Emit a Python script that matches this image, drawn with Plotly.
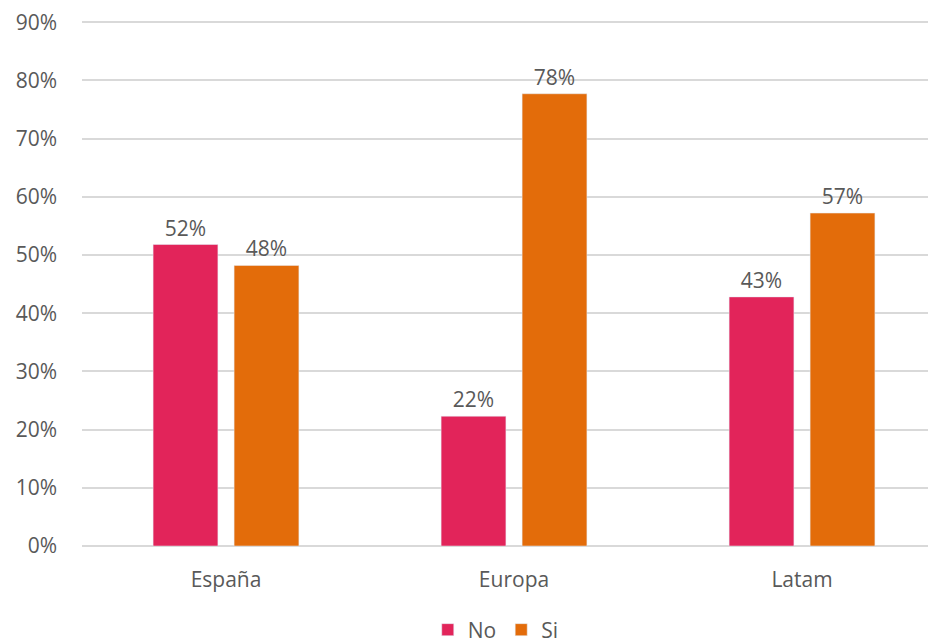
import plotly.graph_objects as go

regiones = ["España", "Europa", "Latam"]
no_vals = [0.518, 0.223, 0.428]
si_vals = [0.482, 0.777, 0.572]
etiquetas_no = ["52%", "22%", "43%"]
etiquetas_si = ["48%", "78%", "57%"]

gris = "#595959"
fuente = dict(family="Open Sans", size=21, color=gris)

fig = go.Figure()
fig.add_trace(go.Bar(x=regiones, y=no_vals, name="No", marker=dict(color="#E2245A"),
                     text=etiquetas_no, textposition="outside", cliponaxis=False,
                     textfont=fuente))
fig.add_trace(go.Bar(x=regiones, y=si_vals, name="Si", marker=dict(color="#E36C0A"),
                     text=etiquetas_si, textposition="outside", cliponaxis=False,
                     textfont=fuente))

fig.update_layout(
    width=936, height=643,
    margin=dict(l=74, r=0, t=10, b=101),
    paper_bgcolor="white", plot_bgcolor="white",
    barmode="group", bargap=0.4375, bargroupgap=0.2,
    font=fuente,
    legend=dict(orientation="h", x=0.48, xanchor="center", y=-0.16, yanchor="middle",
                font=fuente, itemwidth=30, tracegroupgap=0),
    xaxis=dict(range=[-0.5, 2.493], showgrid=False, showline=False, zeroline=False,
               ticks="", tickfont=fuente, ticklabelstandoff=19),
    yaxis=dict(range=[0, 0.902], dtick=0.1, tickformat=".0%", showgrid=True,
               gridcolor="#d9d9d9", gridwidth=1.5, zeroline=True, zerolinecolor="#d9d9d9",
               zerolinewidth=1.5, showline=False, ticks="", ticklabelstandoff=24,
               ticklabeloverflow="allow", tickfont=fuente),
)

fig.write_html("out.html")
